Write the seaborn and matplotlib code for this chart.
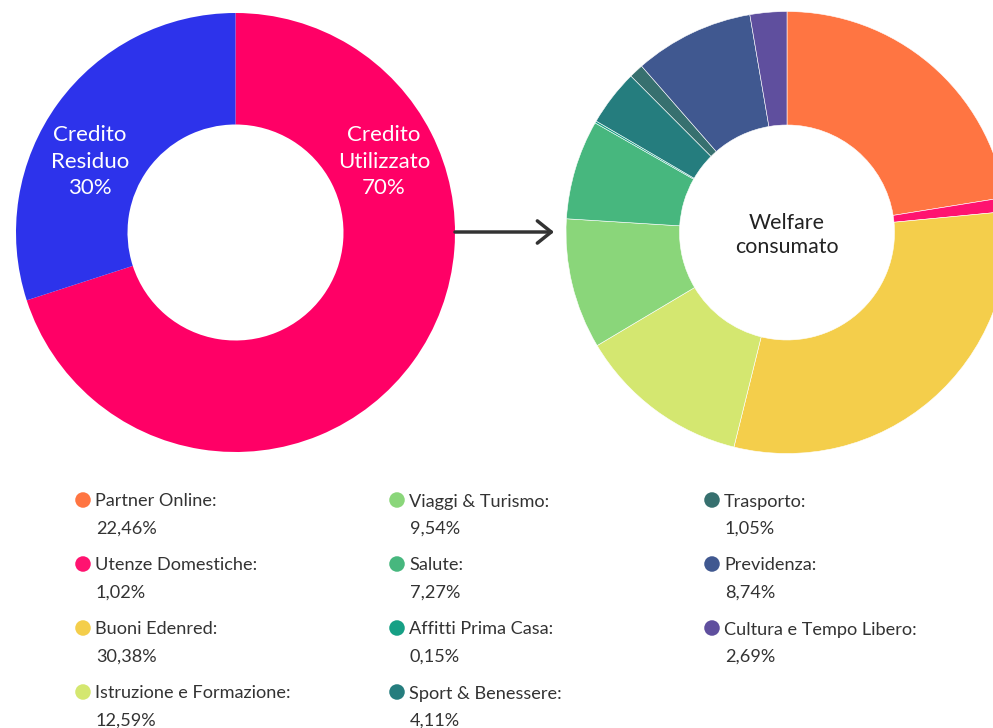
import matplotlib
matplotlib.use("Agg")
import matplotlib.pyplot as plt
import seaborn as sns
import pandas as pd

# ---- data ----
credit_labels = ["Credito\nUtilizzato\n70%", "Credito\nResiduo\n30%"]
credit_values = [70, 30]
credit_colors = ["#FF0066", "#2D33EB"]

categories = ["Partner Online", "Utenze Domestiche", "Buoni Edenred",
              "Istruzione e Formazione", "Viaggi & Turismo", "Salute",
              "Affitti Prima Casa", "Sport & Benessere", "Trasporto",
              "Previdenza", "Cultura e Tempo Libero"]
shares = [22.46, 1.02, 30.38, 12.59, 9.54, 7.27, 0.15, 4.11, 1.05, 8.74, 2.69]
share_labels = ["22,46%", "1,02%", "30,38%", "12,59%", "9,54%", "7,27%",
                "0,15%", "4,11%", "1,05%", "8,74%", "2,69%"]
cat_colors = ["#FF7542", "#FF1370", "#F4CE4B", "#D4E770", "#8AD67A", "#47B77E",
              "#16A085", "#257D7E", "#37706F", "#405890", "#5F4F9E"]

sns.set_theme(style="white")
plt.rcParams["font.family"] = ["Lato", "DejaVu Sans"]

W, H = 993, 728
fig = plt.figure(figsize=(W / 100, H / 100), dpi=100)
ax = fig.add_axes([0, 0, 1, 1])

def Y(py):
    return H - py

# left donut
lc, lr, lin = (235.5, Y(232.5)), 219.5, 108
ax.pie(credit_values, colors=credit_colors, startangle=90, counterclock=False,
       radius=lr, center=lc, wedgeprops=dict(width=lr - lin, linewidth=0))
ax.text(384, Y(161.5), credit_labels[0], color="white", fontsize=16,
        ha="center", va="center", linespacing=1.42)
ax.text(90, Y(161.5), credit_labels[1], color="white", fontsize=16,
        ha="center", va="center", linespacing=1.42)

# right donut
rc, rr, rin = (787, Y(232.5)), 221, 107.5
ax.pie(shares, colors=cat_colors, startangle=90, counterclock=False,
       radius=rr, center=rc,
       wedgeprops=dict(width=rr - rin, edgecolor="white", linewidth=0.4))
ax.text(787, Y(235), "Welfare\nconsumato", color="#222222", fontsize=15.4,
        ha="center", va="center", linespacing=1.3)

# arrow
ax.annotate("", xy=(554, Y(232)), xytext=(455, Y(232)),
            arrowprops=dict(arrowstyle="->,head_length=0.5,head_width=0.4",
                            color="#333333", lw=2.5, mutation_scale=20,
                            shrinkA=0, shrinkB=0))

# legend
col_x = [83, 397, 712]
row_y = [500, 564, 628, 692]
xs, ys = [], []
for i, (cat, lab) in enumerate(zip(categories, share_labels)):
    c, r = divmod(i, 4)
    cx, cy = col_x[c], row_y[r]
    xs.append(cx)
    ys.append(Y(cy))
    ax.text(cx + 12, Y(cy + 1.5), cat + ":", fontsize=13.1, color="#333333",
            ha="left", va="center")
    ax.text(cx + 13, Y(cy + 28.5), lab, fontsize=13.1, color="#333333",
            ha="left", va="center")

df = pd.DataFrame({"x": xs, "y": ys, "cat": categories})
sns.scatterplot(data=df, x="x", y="y", hue="cat",
                palette=dict(zip(categories, cat_colors)),
                s=125, linewidth=0, legend=False, ax=ax)

ax.set_xlim(0, W)
ax.set_ylim(0, H)
ax.set_aspect("auto")
ax.axis("off")
fig.savefig("out.png", dpi=100)
